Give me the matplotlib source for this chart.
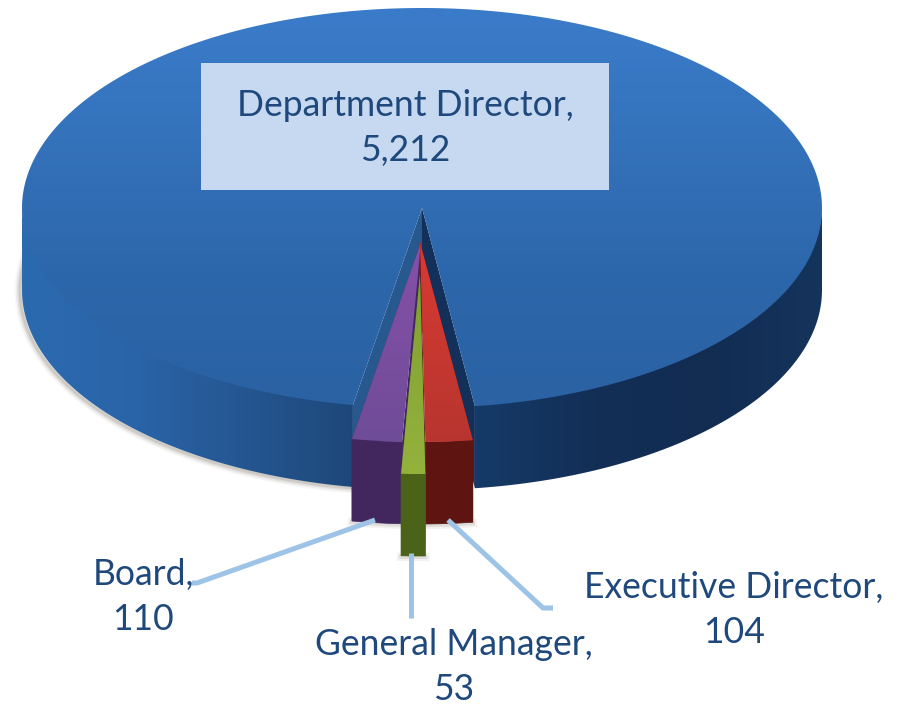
import numpy as np
import matplotlib
matplotlib.use('Agg')
from matplotlib import pyplot as plt
from matplotlib.colors import LinearSegmentedColormap
from matplotlib.patches import Polygon, Rectangle

plt.rcParams['font.family'] = ['Lato', 'DejaVu Sans']

categories = ['Department Director', 'Board', 'General Manager', 'Executive Director']
values = [5212, 110, 53, 104]
value_labels = ['5,212', '110', '53', '104']

# pie projection, in image pixels
cx, cy = 422, 208
rx, ry = 400, 200
depth = 82
first_cut = 7.6  # angle of the ED slice edge, from straight down, clockwise seen on screen
explode = {'Board': (-1, 34), 'General Manager': (-2, 66), 'Executive Director': (-2, 34)}

top_colors = {'Board': ('#8650a8', '#6f4c98'), 'General Manager': ('#7f9f33', '#94b23c'),
              'Executive Director': ('#d83a33', '#b8352f')}
side_colors = {'Board': '#41275e', 'General Manager': '#4b6219', 'Executive Director': '#5e1512'}
text_color = '#1f497d'
leader_color = '#9dc3e6'

fig = plt.figure(figsize=(9, 7.04), dpi=100)
ax = fig.add_axes([0, 0, 1, 1])


def arc(a0, a1, dx=0, dy=0, n=200):
    t = np.radians(np.linspace(a0, a1, n))
    return np.column_stack([cx + dx + rx * np.sin(t), cy + dy + ry * np.cos(t)])


def gradient(verts, colors, vertical=True, z=1):
    cmap = LinearSegmentedColormap.from_list('g', colors)
    ramp = np.linspace(0, 1, 256)
    ramp = ramp.reshape(-1, 1) if vertical else ramp.reshape(1, -1)
    x0, y0 = verts.min(axis=0)
    x1, y1 = verts.max(axis=0)
    im = ax.imshow(ramp, cmap=cmap, extent=(x0, x1, y1, y0), aspect='auto', zorder=z, interpolation='bilinear')
    clip = Polygon(verts, closed=True, transform=ax.transData)
    im.set_clip_path(clip)


# slice angles, going from the ED edge to the left through GM and Board
total = sum(values)
sweep = {c: 360 * v / total for c, v in zip(categories, values)}
ed_a0 = first_cut
ed_a1 = ed_a0 - sweep['Executive Director']
gm_a1 = ed_a1 - sweep['General Manager']
bd_a1 = gm_a1 - sweep['Board']
slice_angles = {'Executive Director': (ed_a0, ed_a1), 'General Manager': (ed_a1, gm_a1), 'Board': (gm_a1, bd_a1)}
apex = np.array([[cx, cy]])

# soft shadow at the lower left of the body
shadow = arc(-8, -100, dy=depth) + [-2, 1]
for lw, a in zip([8, 6, 4, 2], [0.04, 0.07, 0.1, 0.16]):
    ax.plot(shadow[:, 0], shadow[:, 1], color='#6b5f50', lw=lw, alpha=a, zorder=0.5)

# main body side, both parts of the rim
right_rim = arc(90, ed_a0)
left_rim = arc(bd_a1, -90)
side_cols = ['#2c6ab0', '#2a64a8', '#24558f', '#1d4678', '#163a68', '#122f56', '#122c52', '#15345c']
for rim in (left_rim, right_rim):
    verts = np.vstack([rim + [0, -3], rim[::-1] + [0, depth]])
    bx = np.linspace(cx - rx, cx + rx, 256)
    cmap = LinearSegmentedColormap.from_list('side', side_cols)
    im = ax.imshow(bx.reshape(1, -1), cmap=cmap, extent=(cx - rx, cx + rx, cy + ry + depth, 0), aspect='auto', zorder=1)
    im.set_clip_path(Polygon(verts, closed=True, transform=ax.transData))

# walls of the cut
left_out = arc(bd_a1, bd_a1, n=1)
right_out = arc(ed_a0, ed_a0, n=1)
ax.add_patch(Polygon(np.vstack([apex, left_out, left_out + [0, depth], apex + [0, depth]]), closed=True,
                     fc='#27598f', ec='none', zorder=1.5))
ax.add_patch(Polygon(np.vstack([apex, right_out, right_out + [0, depth], apex + [0, depth]]), closed=True,
                     fc='#12305a', ec='none', zorder=1.6))

# main top face
top = np.vstack([apex, arc(bd_a1, ed_a0 - 360, n=600)])
gradient(top, ['#3b7cca', '#3472bb', '#2d67ab', '#2a62a3'], z=2)

# exploded slices, GM goes last as it sits in front
for i, name in enumerate(['Board', 'Executive Director', 'General Manager']):
    a0, a1 = slice_angles[name]
    dx, dy = explode[name]
    z = 3 + i
    rim = arc(a0, a1, dx, dy, n=30)
    tip = apex + [dx, dy]
    low = rim + [0, depth + 1]
    for lw, a in zip([6, 3], [0.08, 0.14]):
        ax.plot(low[:, 0], low[:, 1], color='#6b5f50', lw=lw, alpha=a, zorder=2.5)
    for edge in (rim[0], rim[-1]):
        ax.add_patch(Polygon(np.vstack([tip, edge, edge + [0, depth], tip + [0, depth]]), closed=True,
                             fc=side_colors[name], ec='none', zorder=z))
    front = np.vstack([rim, rim[::-1] + [0, depth]])
    ax.add_patch(Polygon(front, closed=True, fc=side_colors[name], ec=side_colors[name], lw=0.5, zorder=z + 0.1))
    gradient(np.vstack([tip, rim]), top_colors[name], z=z + 0.2)

# data labels and leader lines
ax.add_patch(Rectangle((201, 63), 408, 127, fc='#c6d9f1', ec='none', zorder=8))
label_pos = {'Department Director': (405, 128), 'Board': (143, 597),
             'General Manager': (454, 667), 'Executive Director': (734, 610)}
for name, val in zip(categories, value_labels):
    x, y = label_pos[name]
    ax.text(x, y, name + ',\n' + val, ha='center', va='center', fontsize=25.6, color=text_color,
            linespacing=1.43, zorder=9)

leader_x = [[375, 197, 192], [411, 411], [448, 543, 553]]
leader_y = [[520, 583, 583], [553, 618], [520, 608, 608]]
for lx, ly in zip(leader_x, leader_y):
    ax.plot(lx, ly, color=leader_color, lw=3.6, solid_joinstyle='miter', solid_capstyle='butt', zorder=8)

ax.set_xlim(0, 900)
ax.set_ylim(704, 0)
ax.axis('off')
fig.savefig('out.png', dpi=100)
